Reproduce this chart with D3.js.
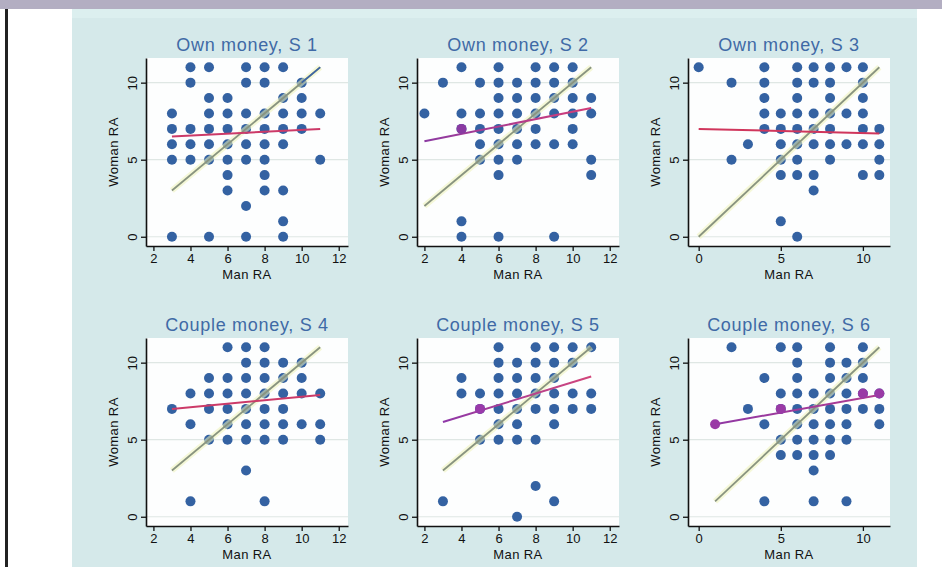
<!DOCTYPE html>
<html>
<head>
<meta charset="utf-8">
<script src="https://cdn.jsdelivr.net/npm/d3@7"></script>
<style>
  html, body { margin: 0; padding: 0; background: #ffffff; }
  svg { display: block; }
  text { font-family: "Liberation Sans", Arial, sans-serif; }
</style>
</head>
<body>
<svg id="chart" width="942" height="567"></svg>
<script>
// ---- data ---------------------------------------------------------------
const titles = ["Own money, S 1", "Own money, S 2", "Own money, S 3",
                "Couple money, S 4", "Couple money, S 5", "Couple money, S 6"];

// observations grouped by Woman RA (y) with the Man RA values (x) seen at it
const s1Rows = [
  {y: 11, x: [4, 5, 7, 8, 9]},
  {y: 10, x: [4, 7, 8, 10]},
  {y: 9,  x: [5, 6, 9, 10]},
  {y: 8,  x: [3, 5, 6, 7, 8, 9, 10, 11]},
  {y: 7,  x: [3, 4, 5, 6, 7, 8, 9, 10]},
  {y: 6,  x: [3, 4, 5, 6, 7, 8, 9]},
  {y: 5,  x: [3, 4, 5, 6, 7, 8, 11]},
  {y: 4,  x: [6, 8]},
  {y: 3,  x: [6, 8, 9]},
  {y: 2,  x: [7]},
  {y: 1,  x: [9]},
  {y: 0,  x: [3, 5, 7, 9]}
];
const s2Rows = [
  {y: 11, x: [4, 6, 8, 9, 10]},
  {y: 10, x: [3, 5, 6, 7, 8, 9, 10]},
  {y: 9,  x: [6, 7, 8, 9, 10, 11]},
  {y: 8,  x: [2, 4, 5, 6, 7, 8, 9, 10, 11]},
  {y: 7,  x: [4, 5, 6, 7, 8, 10]},
  {y: 6,  x: [5, 6, 7, 8, 9, 10]},
  {y: 5,  x: [5, 6, 7, 11]},
  {y: 4,  x: [6, 11]},
  {y: 1,  x: [4]},
  {y: 0,  x: [4, 6, 9]}
];
const s3Rows = [
  {y: 11, x: [0, 4, 6, 7, 8, 9, 10]},
  {y: 10, x: [2, 4, 6, 7, 8, 10]},
  {y: 9,  x: [4, 6, 8, 10]},
  {y: 8,  x: [4, 5, 6, 7, 8, 9, 10]},
  {y: 7,  x: [4, 5, 6, 7, 8, 10, 11]},
  {y: 6,  x: [3, 5, 6, 7, 8, 9, 10, 11]},
  {y: 5,  x: [2, 5, 6, 8, 11]},
  {y: 4,  x: [5, 6, 7, 10, 11]},
  {y: 3,  x: [7]},
  {y: 1,  x: [5]},
  {y: 0,  x: [6]}
];
const s4Rows = [
  {y: 11, x: [6, 7, 8]},
  {y: 10, x: [7, 8, 9, 10]},
  {y: 9,  x: [5, 6, 7, 8, 9, 10]},
  {y: 8,  x: [4, 5, 6, 7, 8, 9, 10, 11]},
  {y: 7,  x: [3, 5, 6, 7, 8, 9]},
  {y: 6,  x: [4, 6, 7, 8, 9, 10, 11]},
  {y: 5,  x: [5, 6, 7, 8, 9, 11]},
  {y: 3,  x: [7]},
  {y: 1,  x: [4, 8]}
];
const s5Rows = [
  {y: 11, x: [6, 8, 9, 10, 11]},
  {y: 10, x: [6, 7, 8, 9, 10]},
  {y: 9,  x: [4, 6, 7, 8, 9]},
  {y: 8,  x: [4, 5, 6, 7, 8, 9, 10, 11]},
  {y: 7,  x: [5, 6, 7, 8, 9, 10, 11]},
  {y: 6,  x: [6, 7, 9]},
  {y: 5,  x: [5, 6, 7, 8]},
  {y: 2,  x: [8]},
  {y: 1,  x: [3, 9]},
  {y: 0,  x: [7]}
];
const s6Rows = [
  {y: 11, x: [2, 5, 6, 8, 10]},
  {y: 10, x: [6, 8, 9, 10]},
  {y: 9,  x: [4, 6, 8, 9, 10]},
  {y: 8,  x: [5, 6, 7, 8, 9, 10, 11]},
  {y: 7,  x: [3, 5, 6, 7, 8, 9, 10, 11]},
  {y: 6,  x: [4, 6, 7, 8, 9, 11]},
  {y: 5,  x: [5, 6, 7, 8, 9]},
  {y: 4,  x: [5, 6, 7, 8]},
  {y: 3,  x: [7]},
  {y: 1,  x: [4, 7, 9]}
];
const panelRows = [s1Rows, s2Rows, s3Rows, s4Rows, s5Rows, s6Rows];

// fitted regression line end points [[x0, y0], [x1, y1]]
const fitLines = [
  [[3, 6.5], [11, 7.0]],
  [[2, 6.2], [11, 8.35]],
  [[0, 7.0], [11, 6.7]],
  [[3, 7.0], [11, 7.9]],
  [[3, 6.15], [11, 9.1]],
  [[1, 6.0], [11, 7.9]]
];
// 45-degree reference line, x range
const diagonals = [[3, 11], [2, 11], [0, 11], [3, 11], [3, 11], [1, 11]];

// observations that sit under the fitted line
const onFit = [
  [],
  [[4, 7]],
  [],
  [],
  [[5, 7]],
  [[1, 6], [5, 7], [10, 8], [11, 8]]
];

const xTicksWide = [2, 4, 6, 8, 10, 12];
const xTicksNarrow = [0, 5, 10];
const panelXTicks = [xTicksWide, xTicksWide, xTicksNarrow, xTicksWide, xTicksWide, xTicksNarrow];
const yTicks = [0, 5, 10];
const xLabel = "Man RA";
const yLabel = "Woman RA";

// ---- layout & style -----------------------------------------------------
const W = 942, H = 567;
const plotW = 202, plotH = 188;
const colLeft = [146, 417, 688];
const rowTop = [58, 338];
const xDomWide = [1.6, 12.5], xDomNarrow = [-0.65, 11.65];
const yDom = [-0.6, 11.6];
const dotR = 5;
const dotColor = "#3462a2";
const titleColor = "#3f6aa6";
const fitColors = [
  ["#cc3a68", "#cc3a68"],
  ["#8c3aa2", "#d43e78"],
  ["#d0365c", "#d0365c"],
  ["#cc3a68", "#cc3a68"],
  ["#8e38a8", "#d2467a"],
  ["#9038a4", "#b03c90"]
];
const tintColors = ["#b23c84", "#8a3aa2", "#b23c84", "#b23c84", "#9a3aaa", "#9a3aa6"];

const svg = d3.select("#chart");
const defs = svg.append("defs");

// page: white sheet, grey band at top, rule on the left, pale blue graph region
svg.append("rect").attr("x", 0).attr("y", 0).attr("width", W).attr("height", H).attr("fill", "#ffffff");
svg.append("rect").attr("x", 72).attr("y", 8).attr("width", 845).attr("height", H - 8).attr("fill", "#d5e9ea");
svg.append("rect").attr("x", 72).attr("y", 8).attr("width", 845).attr("height", 10).attr("fill", "#dcefef");
svg.append("rect").attr("x", 0).attr("y", 0).attr("width", W).attr("height", 9).attr("fill", "#b3aec2");
svg.append("rect").attr("x", 5).attr("y", 9).attr("width", 3).attr("height", H - 9).attr("fill", "#222222");

panelRows.forEach((rows, i) => {
  const col = i % 3, row = Math.floor(i / 3);
  const left = colLeft[col], top = rowTop[row];
  const narrow = panelXTicks[i] === xTicksNarrow;
  const x = d3.scaleLinear().domain(narrow ? xDomNarrow : xDomWide).range([left, left + plotW]);
  const y = d3.scaleLinear().domain(yDom).range([top + plotH, top]);
  const g = svg.append("g");

  const points = rows.flatMap(r => r.x.map(v => [v, r.y]));

  // plot region
  g.append("rect").attr("x", left).attr("y", top).attr("width", plotW).attr("height", plotH)
    .attr("fill", "#fdfefe");

  // horizontal grid
  g.selectAll(".grid").data(yTicks).join("line")
    .attr("x1", left).attr("x2", left + plotW)
    .attr("y1", d => y(d)).attr("y2", d => y(d))
    .attr("stroke", "#dfe7e4").attr("stroke-width", 1.2);

  // title
  g.append("text").attr("x", left + plotW / 2).attr("y", top - 7)
    .attr("text-anchor", "middle").attr("fill", titleColor)
    .attr("font-size", 18).attr("letter-spacing", 0.7)
    .text(titles[i]);

  // observations
  g.selectAll(".dot").data(points).join("circle")
    .attr("cx", d => x(d[0])).attr("cy", d => y(d[1])).attr("r", dotR)
    .attr("fill", dotColor);

  // 45-degree line with its pale halo
  const [d0, d1] = diagonals[i];
  g.append("line")
    .attr("x1", x(d0)).attr("y1", y(d0)).attr("x2", x(d1)).attr("y2", y(d1))
    .attr("stroke", "#eef2b8").attr("stroke-opacity", 0.55).attr("stroke-width", 6);
  g.append("line")
    .attr("x1", x(d0)).attr("y1", y(d0)).attr("x2", x(d1)).attr("y2", y(d1))
    .attr("stroke", "#89947f").attr("stroke-width", 1.8);
  if (i === 0) {
    g.append("line")
      .attr("x1", x(10)).attr("y1", y(10)).attr("x2", x(d1)).attr("y2", y(d1))
      .attr("stroke", "#3a64a8").attr("stroke-width", 1.6);
  }

  // fitted line
  const [[fx0, fy0], [fx1, fy1]] = fitLines[i];
  const gid = "fit" + i;
  const grad = defs.append("linearGradient").attr("id", gid)
    .attr("gradientUnits", "userSpaceOnUse")
    .attr("x1", x(fx0)).attr("y1", y(fy0)).attr("x2", x(fx1)).attr("y2", y(fy1));
  grad.append("stop").attr("offset", "0%").attr("stop-color", fitColors[i][0]);
  grad.append("stop").attr("offset", "100%").attr("stop-color", fitColors[i][1]);
  g.append("line")
    .attr("x1", x(fx0)).attr("y1", y(fy0)).attr("x2", x(fx1)).attr("y2", y(fy1))
    .attr("stroke", `url(#${gid})`).attr("stroke-width", 2);

  g.selectAll(".tint").data(onFit[i]).join("circle")
    .attr("cx", d => x(d[0])).attr("cy", d => y(d[1])).attr("r", dotR)
    .attr("fill", tintColors[i]);

  // axes
  const yAxis = d3.axisLeft(y).tickValues(yTicks).tickSize(5).tickPadding(4).tickSizeOuter(0);
  const ya = g.append("g").attr("transform", `translate(${left},0)`).call(yAxis);
  const xAxis = d3.axisBottom(x).tickValues(panelXTicks[i]).tickSize(5).tickPadding(3).tickSizeOuter(0);
  const xa = g.append("g").attr("transform", `translate(0,${top + plotH})`).call(xAxis);
  [ya, xa].forEach(a => {
    a.select(".domain").attr("stroke", "#111").attr("stroke-width", 1.6);
    a.selectAll(".tick line").attr("stroke", "#111").attr("stroke-width", 1.3);
    a.selectAll("text").attr("fill", "#111").attr("font-size", 13)
      .attr("font-family", "\"Liberation Sans\", Arial, sans-serif");
  });
  ya.selectAll(".tick text")
    .attr("x", null).attr("dy", null)
    .attr("text-anchor", "middle")
    .attr("transform", "translate(-14,0) rotate(-90)")
    .attr("dy", "0.35em");

  // axis titles
  g.append("text").attr("x", left + plotW / 2).attr("y", top + plotH + 33)
    .attr("text-anchor", "middle").attr("font-size", 13).attr("fill", "#111")
    .attr("letter-spacing", 0.4)
    .text(xLabel);
  g.append("text")
    .attr("transform", `translate(${left - 28},${top + plotH / 2}) rotate(-90)`)
    .attr("text-anchor", "middle").attr("font-size", 13).attr("fill", "#111")
    .attr("letter-spacing", 0.4)
    .text(yLabel);
});
</script>
</body>
</html>
